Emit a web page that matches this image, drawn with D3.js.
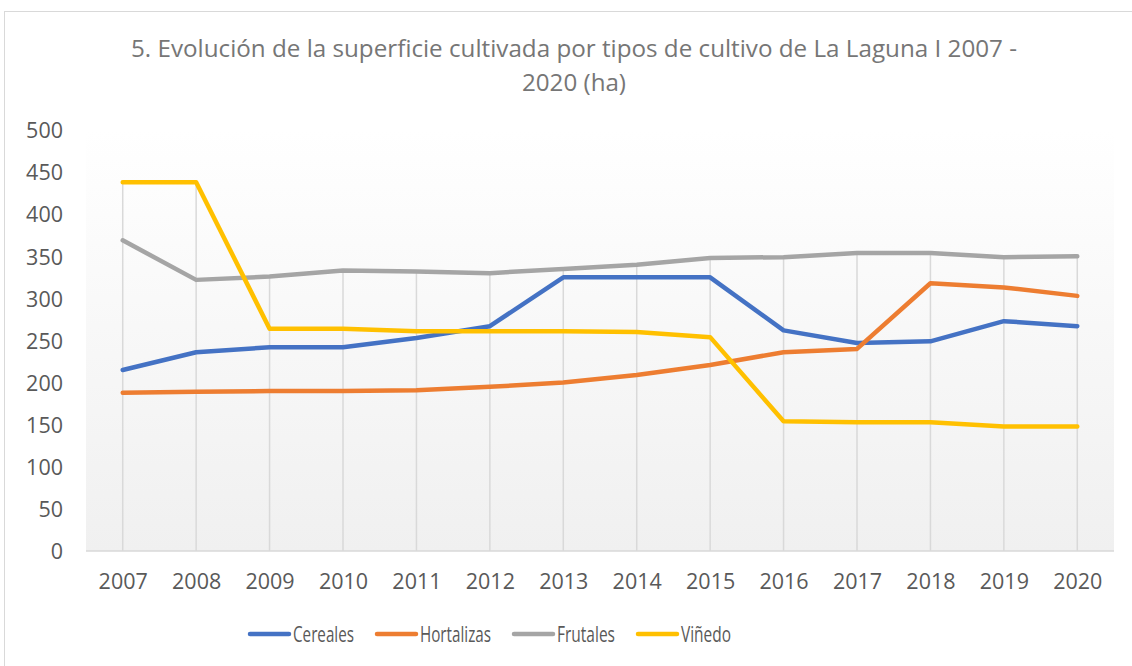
<!DOCTYPE html>
<html><head><meta charset="utf-8">
<script src="https://cdn.jsdelivr.net/npm/d3@7"></script>
<style>body{margin:0;background:#fff}svg{display:block}</style>
</head><body><svg id="c" width="1132" height="666"></svg>
<script>
const years = ["2007","2008","2009","2010","2011","2012","2013","2014","2015","2016","2017","2018","2019","2020"];
const cereales   = [215,236,242,242,253,267,325,325,325,262,247,249,273,267];
const hortalizas = [188,189,190,190,191,195,200,209,221,236,240,318,313,303];
const frutales   = [369,322,326,333,332,330,335,340,348,349,354,354,349,350];
const vinedo     = [438,438,264,264,261,261,261,260,254,154,153,153,148,148];
const yTicks = [0,50,100,150,200,250,300,350,400,450,500];
const seriesNames = ["Cereales","Hortalizas","Frutales","Viñedo"];
const seriesColors = ["#4472C4","#ED7D31","#A5A5A5","#FFC000"];
const titleLines = ["5. Evolución de la superficie cultivada por tipos de cultivo de La Laguna I 2007 -","2020 (ha)"];

const series = [cereales,hortalizas,frutales,vinedo].map((v,i)=>({name:seriesNames[i],color:seriesColors[i],values:v}));
const font = "'Open Sans', sans-serif";
const svg = d3.select("#c");
const L=86, R=1114, T=130, B=551;

svg.append("rect").attr("x",4.5).attr("y",11.5).attr("width",1140).attr("height",670)
  .attr("fill","#fff").attr("stroke","#d9d9d9").attr("stroke-width",1);

const defs = svg.append("defs");
const grad = defs.append("linearGradient").attr("id","bg").attr("x1",0).attr("y1",0).attr("x2",0).attr("y2",1);
grad.append("stop").attr("offset","0%").attr("stop-color","#ffffff");
grad.append("stop").attr("offset","100%").attr("stop-color","#f0f0f0");

const x = d3.scalePoint().domain(years).range([L,R]).padding(0.5);
const y = d3.scaleLinear().domain([0,500]).range([B,T]);

svg.append("rect").attr("x",L).attr("y",T).attr("width",R-L).attr("height",B-T).attr("fill","url(#bg)");

// drop lines
years.forEach((yr,i)=>{
  const mx = d3.max(series, s=>s.values[i]);
  svg.append("line").attr("x1",x(yr)).attr("x2",x(yr)).attr("y1",y(mx)).attr("y2",y(0))
    .attr("stroke","#d9d9d9").attr("stroke-width",1.5);
});

// axes
const yAxis = svg.append("g").attr("transform",`translate(${L},0)`)
  .call(d3.axisLeft(y).tickValues(yTicks).tickSize(0).tickPadding(23));
yAxis.select(".domain").remove();
yAxis.selectAll("text").attr("font-family",font).attr("font-size",21.5).attr("fill","#595959").attr("dy","0.36em");

const xAxis = svg.append("g").attr("transform",`translate(0,${B})`)
  .call(d3.axisBottom(x).tickSize(0).tickPadding(0));
xAxis.select(".domain").remove();
xAxis.selectAll("text").attr("font-family",font).attr("font-size",21.5).attr("fill","#595959").attr("dy",0).attr("y",38);
svg.append("line").attr("x1",L).attr("x2",R).attr("y1",B).attr("y2",B).attr("stroke","#d9d9d9").attr("stroke-width",1.5);

// lines
const line = d3.line().x((d,i)=>x(years[i])).y(d=>y(d));
series.forEach(s=>{
  svg.append("path").datum(s.values).attr("d",line).attr("fill","none")
    .attr("stroke",s.color).attr("stroke-width",4.5).attr("stroke-linejoin","round").attr("stroke-linecap","round");
});

// title
const titleW = [886, 104];
titleLines.forEach((t,i)=>{
  svg.append("text").attr("x",574).attr("y",57+i*34).attr("text-anchor","middle")
    .attr("font-family",font).attr("font-size",24).attr("fill","#767676")
    .attr("textLength",titleW[i]).attr("lengthAdjust","spacingAndGlyphs").text(t);
});

// legend
const legX = [250,377,514,638];
const legW = [61,71,58,50];
series.forEach((s,i)=>{
  svg.append("line").attr("x1",legX[i]).attr("x2",legX[i]+39).attr("y1",634).attr("y2",634)
    .attr("stroke",s.color).attr("stroke-width",4.5).attr("stroke-linecap","round");
  svg.append("text").attr("x",legX[i]+43).attr("y",641.5).attr("font-family",font).attr("font-size",21)
    .attr("textLength",legW[i]).attr("lengthAdjust","spacingAndGlyphs")
    .attr("fill","#595959").text(s.name);
});
</script></body></html>
